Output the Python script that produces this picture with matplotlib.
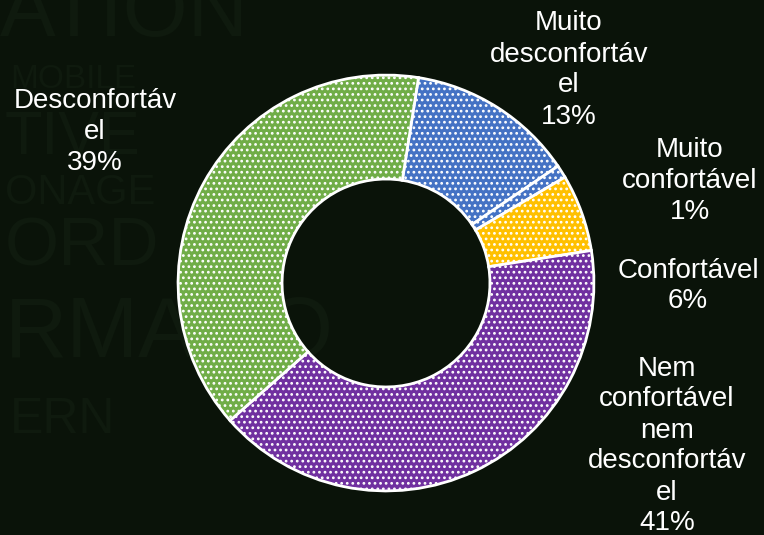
import matplotlib

matplotlib.use("Agg")
import matplotlib.pyplot as plt

plt.rcParams["font.family"] = ["Liberation Sans", "DejaVu Sans"]
plt.rcParams["hatch.linewidth"] = 1.2

# 数据：顺时针，从顶部偏右约 9° 开始
labels = [
    "Muito\ndesconfortáv\nel",
    "Muito\nconfortável",
    "Confortável",
    "Nem\nconfortável\nnem\ndesconfortáv\nel",
    "Desconfortáv\nel",
]
values = [13, 1, 6, 41, 39]
colors = ["#4472c4", "#4472c4", "#ffc000", "#7030a0", "#70ad47"]
# 标签中心位置（像素，figure 坐标）
label_pos = [(569, 70), (690, 181), (688, 286), (667, 446), (95, 132)]

# 背景里的淡色大字（纹理）
bg_words = [
    ("ATION", 0, 14, 60),
    ("MOBILE", 10, 80, 24),
    ("TIVE", 5, 138, 44),
    ("ONAGE", 5, 193, 30),
    ("ORD", 5, 247, 50),
    ("RMATIO", 5, 335, 62),
    ("ERN", 10, 420, 36),
]

W, H, DPI = 764, 535, 100
fig = plt.figure(figsize=(W / DPI, H / DPI), dpi=DPI)
fig.patch.set_facecolor("#0a1309")

for word, x, y, size in bg_words:
    fig.text(x / W, 1 - y / H, word, fontsize=size, color="#0f1a0e",
             ha="left", va="center", zorder=0)

# 圆心 (386, 283)，外半径约 210 px
cx, cy, r = 386, 283, 210
ax = fig.add_axes([(cx - r) / W, 1 - (cy + r) / H, 2 * r / W, 2 * r / H])
ax.set_zorder(2)
ax.set_facecolor("none")
wedges, _ = ax.pie(
    values, colors=colors, startangle=81, counterclock=False, radius=1.0,
    wedgeprops=dict(width=0.5, edgecolor="white", linewidth=2.0),
)
for w in wedges:
    w.set_hatch("...")
ax.set_xlim(-1.01, 1.01)
ax.set_ylim(-1.01, 1.01)
ax.set_aspect("equal")
ax.axis("off")

for lab, v, (x, y) in zip(labels, values, label_pos):
    fig.text(x / W, 1 - y / H, f"{lab}\n{v}%", fontsize=20, color="white",
             ha="center", va="center", linespacing=1.25, multialignment="center",
             zorder=3)

fig.savefig("out.png", dpi=DPI, facecolor=fig.get_facecolor())
plt.close(fig)
